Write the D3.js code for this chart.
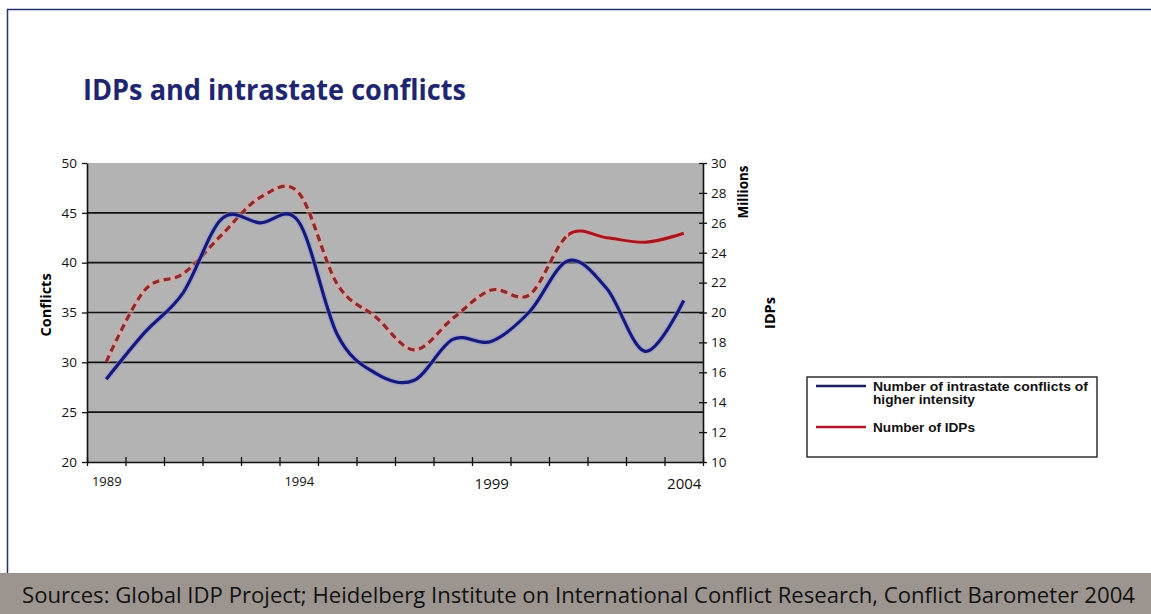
<!DOCTYPE html>
<html>
<head>
<meta charset="utf-8">
<script src="https://cdn.jsdelivr.net/npm/d3@7"></script>
<style>
  body { margin: 0; background: #fff; }
  svg text { font-family: "Open Sans", "DejaVu Sans", sans-serif; }
  svg text.leg { font-family: "Liberation Sans", Arial, sans-serif; }
</style>
</head>
<body>
<div id="cont"></div>
<script>
// data
var years = [1989, 1990, 1991, 1992, 1993, 1994, 1995, 1996, 1997, 1998, 1999, 2000, 2001, 2002, 2003, 2004];
var yearLabels = [1989, 1994, 1999, 2004];
var conflicts = [28.3, 33.0, 37.0, 44.4, 44.0, 44.1, 32.8, 28.9, 28.2, 32.3, 32.1, 35.1, 40.2, 37.4, 31.1, 36.2];
var idps = [16.7, 21.5, 22.6, 25.2, 27.7, 28.0, 21.9, 19.7, 17.5, 19.6, 21.5, 21.2, 25.2, 25.0, 24.7, 25.3];
var leftTicks = [20, 25, 30, 35, 40, 45, 50];
var rightTicks = [10, 12, 14, 16, 18, 20, 22, 24, 26, 28, 30];
var solidFrom = 2001; // IDP line turns solid here

var W = 1151, H = 614;
var plot = { x0: 87, x1: 703, y0: 163, y1: 462 };

var svg = d3.select("#cont").append("svg")
  .attr("width", W)
  .attr("height", H);

// frame + footer
svg.append("line").attr("x1", 7).attr("x2", W).attr("y1", 9.5).attr("y2", 9.5)
  .style("stroke", "#27306e").style("stroke-width", 1.5);
svg.append("line").attr("x1", 7.5).attr("x2", 7.5).attr("y1", 9).attr("y2", 574)
  .style("stroke", "#27306e").style("stroke-width", 1.5);
svg.append("rect").attr("x", 0).attr("y", 573).attr("width", W).attr("height", H - 573)
  .style("fill", "#9c958f");
svg.append("text")
  .attr("x", 22).attr("y", 603)
  .attr("textLength", 1113).attr("lengthAdjust", "spacingAndGlyphs")
  .style("font-size", "21px").style("fill", "#111")
  .text("Sources: Global IDP Project; Heidelberg Institute on International Conflict Research, Conflict Barometer 2004");

// title
svg.append("text")
  .attr("x", 83).attr("y", 100)
  .attr("textLength", 383).attr("lengthAdjust", "spacingAndGlyphs")
  .style("font-size", "28px").style("font-weight", "bold").style("fill", "#1f2671")
  .text("IDPs and intrastate conflicts");

// scales
var x = d3.scalePoint().domain(years).range([plot.x0, plot.x1]).padding(0.5);
var xb = d3.scaleLinear().domain([0, years.length]).range([plot.x0, plot.x1]);
var yL = d3.scaleLinear().domain([20, 50]).range([plot.y1, plot.y0]);
var yR = d3.scaleLinear().domain([10, 30]).range([plot.y1, plot.y0]);

// plot area
svg.append("rect")
  .attr("x", plot.x0).attr("y", plot.y0)
  .attr("width", plot.x1 - plot.x0).attr("height", plot.y1 - plot.y0)
  .style("fill", "#b3b3b3");

// gridlines
svg.selectAll("line.grid")
  .data(leftTicks.filter(function(d) { return d > 20 && d < 50; }))
  .enter()
  .append("line")
  .attr("class", "grid")
  .attr("x1", plot.x0).attr("x2", plot.x1)
  .attr("y1", function(d) { return yL(d); })
  .attr("y2", function(d) { return yL(d); })
  .style("stroke", "#111").style("stroke-width", 1.6);

// axes
var axL = svg.append("g").attr("transform", "translate(" + plot.x0 + ",0)")
  .call(d3.axisLeft(yL).tickValues(leftTicks).tickSize(5).tickSizeOuter(0));
axL.selectAll("text").style("font-size", "13.5px").style("fill", "#111").attr("x", -10);

var axR = svg.append("g").attr("transform", "translate(" + plot.x1 + ",0)")
  .call(d3.axisRight(yR).tickValues(rightTicks).tickSize(4).tickSizeOuter(0));
axR.selectAll(".tick line").attr("x1", -4);
axR.selectAll("text").style("font-size", "13.5px").style("fill", "#111").attr("x", 8);

var axB = svg.append("g").attr("transform", "translate(0," + plot.y1 + ")")
  .call(d3.axisBottom(xb).tickValues(d3.range(years.length + 1)).tickFormat("").tickSize(4).tickSizeOuter(0));
axB.selectAll(".tick line").attr("y1", -5);

var axLab = svg.append("g").attr("transform", "translate(0," + plot.y1 + ")")
  .call(d3.axisBottom(x).tickValues(yearLabels).tickSize(0));
axLab.select(".domain").remove();
axLab.selectAll("text")
  .attr("y", 12)
  .style("fill", "#111")
  .style("font-size", function(d) { return d >= 1999 ? "15px" : "13px"; })
  .attr("dy", function(d) { return d >= 1999 ? "1.0em" : "0.9em"; });

svg.selectAll(".domain").style("stroke", "#111").style("stroke-width", 1.6);
svg.selectAll(".tick line").style("stroke", "#111").style("stroke-width", 1.3);

// axis titles
svg.append("text")
  .attr("transform", "translate(51,305) rotate(-90)")
  .attr("text-anchor", "middle")
  .style("font-size", "14.5px").style("font-weight", "bold")
  .text("Conflicts");
svg.append("text")
  .attr("transform", "translate(748,192) rotate(-90)")
  .attr("text-anchor", "middle")
  .style("font-size", "13.5px").style("font-weight", "bold")
  .text("Millions");
svg.append("text")
  .attr("transform", "translate(775,313) rotate(-90)")
  .attr("text-anchor", "middle")
  .style("font-size", "14.5px").style("font-weight", "bold")
  .text("IDPs");

// lines
var curve = d3.curveCardinal.tension(0);
var lineL = d3.line().curve(curve)
  .x(function(d, i) { return x(years[i]); })
  .y(function(d) { return yL(d); });
var lineR = d3.line().curve(curve)
  .x(function(d, i) { return x(years[i]); })
  .y(function(d) { return yR(d); });

var cut = x(solidFrom);
var defs = svg.append("defs");
defs.append("clipPath").attr("id", "clipDash")
  .append("rect").attr("x", 0).attr("y", 0).attr("width", cut).attr("height", H);
defs.append("clipPath").attr("id", "clipSolid")
  .append("rect").attr("x", cut).attr("y", 0).attr("width", W - cut).attr("height", H);

// IDPs: halo, dashed part, solid part
svg.append("path").datum(idps).attr("d", lineR)
  .style("fill", "none").style("stroke", "#e2a3a0").style("stroke-width", 6)
  .style("stroke-opacity", 0.45);
svg.append("path").datum(idps).attr("d", lineR)
  .attr("clip-path", "url(#clipDash)")
  .style("fill", "none").style("stroke", "#8e2a2c").style("stroke-width", 3.2)
  .style("stroke-dasharray", "7,4.5");
svg.append("path").datum(idps).attr("d", lineR)
  .attr("clip-path", "url(#clipSolid)")
  .style("fill", "none").style("stroke", "#a8141e").style("stroke-width", 3);

// Conflicts
svg.append("path").datum(conflicts).attr("d", lineL)
  .style("fill", "none").style("stroke", "#8f9ad8").style("stroke-width", 6)
  .style("stroke-opacity", 0.5);
svg.append("path").datum(conflicts).attr("d", lineL)
  .style("fill", "none").style("stroke", "#16187a").style("stroke-width", 3.2);

// legend
var lg = svg.append("g");
lg.append("rect")
  .attr("x", 807).attr("y", 377).attr("width", 290).attr("height", 80)
  .style("fill", "#fff").style("stroke", "#111").style("stroke-width", 1.3);
var legend = [
  { name: ["Number of intrastate conflicts of", "higher intensity"], len: [215, 102], color: "#1b1d5e", y: 386 },
  { name: ["Number of IDPs"], len: [102], color: "#b5142a", y: 427 }
];
legend.forEach(function(d) {
  lg.append("line").attr("x1", 816).attr("x2", 866).attr("y1", d.y).attr("y2", d.y)
    .style("stroke", d.color).style("stroke-width", 2.6);
  d.name.forEach(function(t, j) {
    lg.append("text")
      .attr("class", "leg")
      .attr("x", 873).attr("y", d.y + 4.5 + j * 13.5)
      .attr("textLength", d.len[j]).attr("lengthAdjust", "spacingAndGlyphs")
      .style("font-size", "12.5px").style("font-weight", "bold").style("fill", "#111")
      .text(t);
  });
});
</script>
</body>
</html>
